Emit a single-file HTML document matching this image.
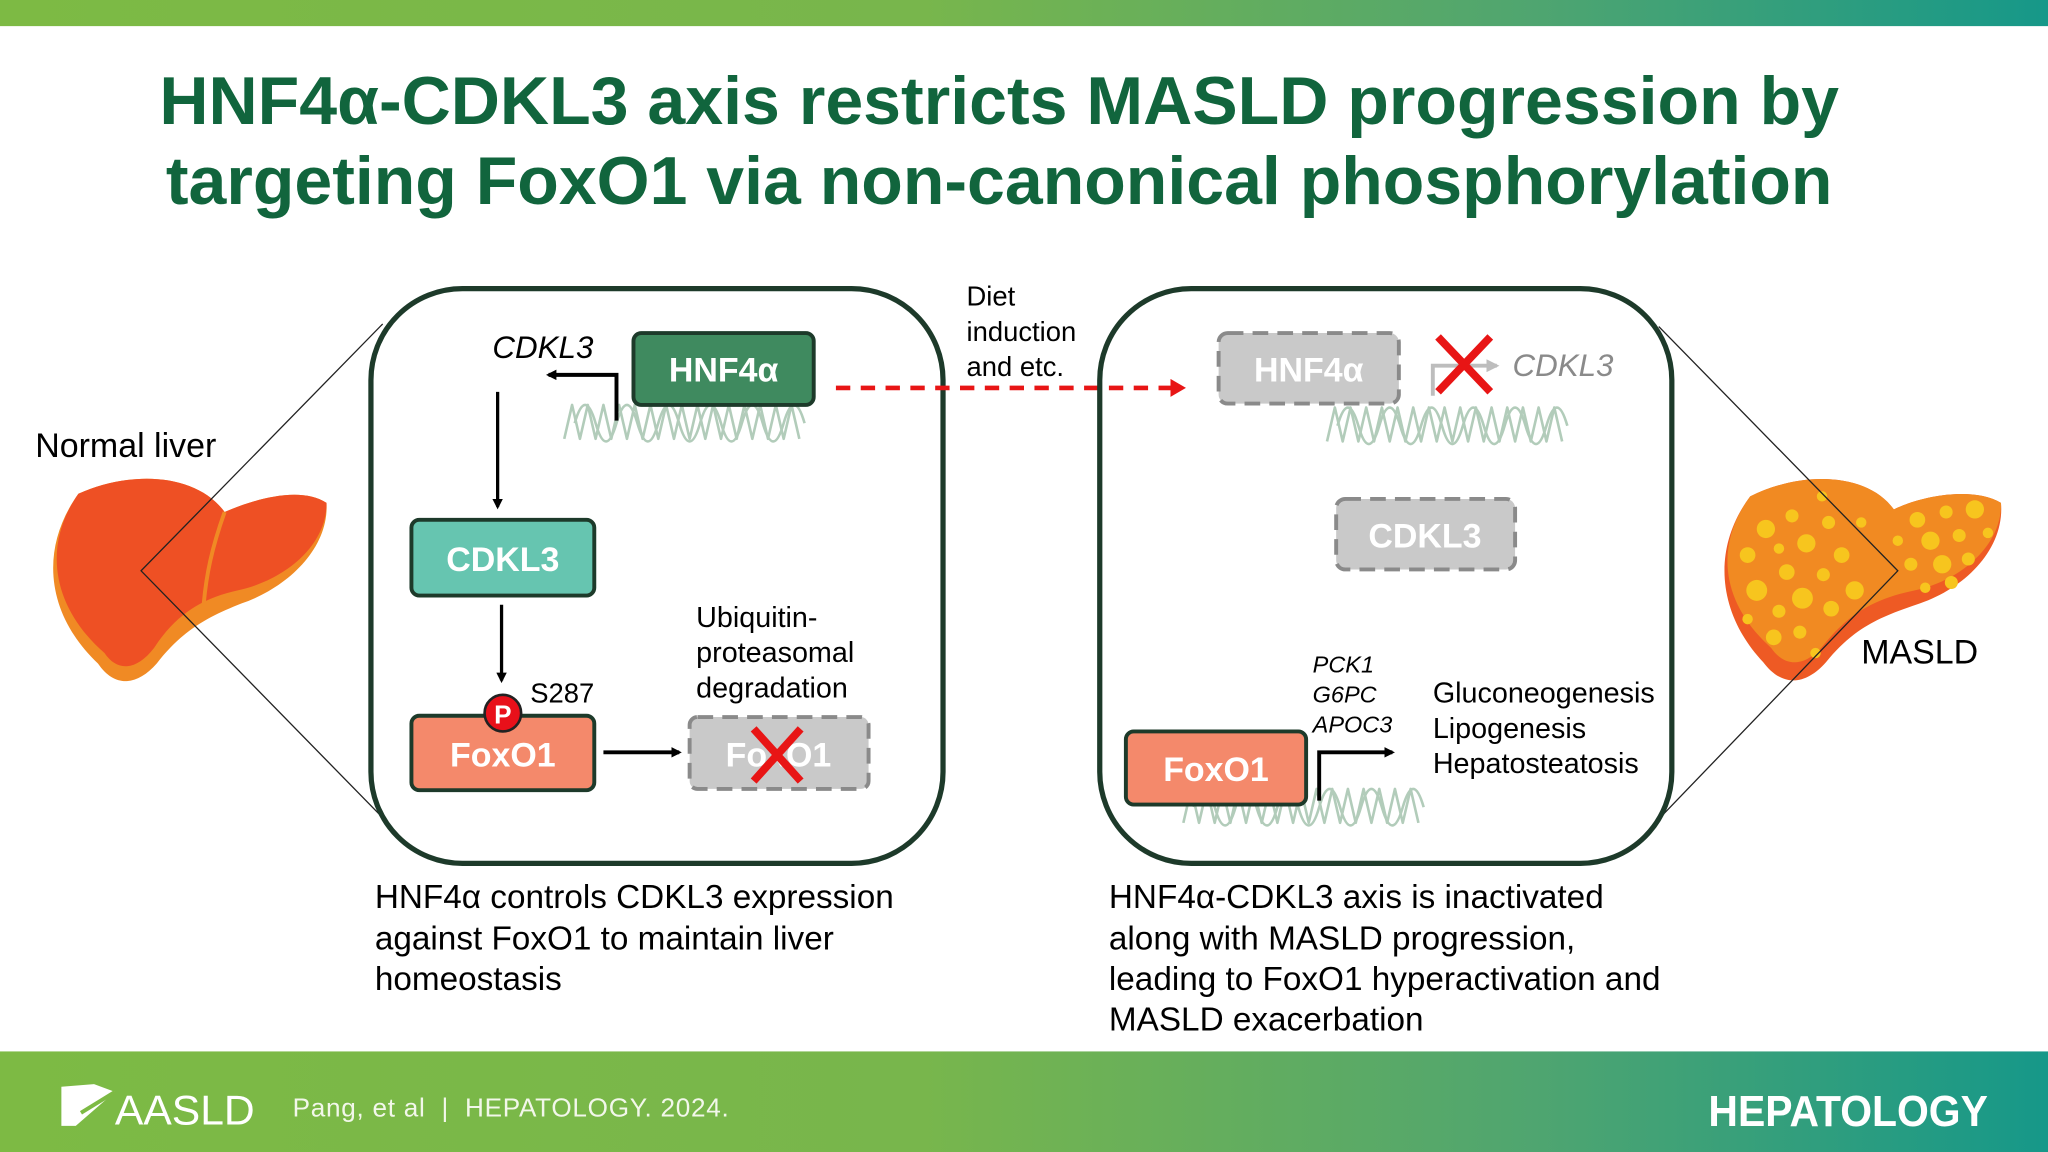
<!DOCTYPE html>
<html><head><meta charset="utf-8"><style>
html,body{margin:0;padding:0;background:#fff}
svg{display:block}
text{font-family:"Liberation Sans",sans-serif}
</style></head><body>
<svg width="2048" height="1152" viewBox="0 0 1568 882" xmlns="http://www.w3.org/2000/svg">
<defs>
<linearGradient id="g" x1="0" x2="1" y1="0" y2="0">
<stop offset="0" stop-color="#7dba44"/><stop offset="0.45" stop-color="#78b64c"/><stop offset="0.75" stop-color="#4fa570"/><stop offset="1" stop-color="#169889"/>
</linearGradient>
<marker id="ah" markerWidth="8" markerHeight="8" refX="6" refY="4" orient="auto" markerUnits="userSpaceOnUse"><path d="M0,0 L8,4 L0,8 z" fill="#000"/></marker>
<marker id="ahr" markerWidth="12" markerHeight="14" refX="10" refY="7" orient="auto" markerUnits="userSpaceOnUse"><path d="M0,0 L12,7 L0,14 z" fill="#e81515"/></marker>
<marker id="ahg" markerWidth="10" markerHeight="10" refX="8" refY="5" orient="auto" markerUnits="userSpaceOnUse"><path d="M0,0 L10,5 L0,10 z" fill="#bdbdbd"/></marker>
<g id="dna" fill="none" stroke="#b2ccba" stroke-width="2">
<path d="M0 30 l6 -26 l6 26 l6 -26 l6 26 l6 -26 l6 26 l6 -26 l6 26 l6 -26 l6 26 l6 -26 l6 26 l6 -26 l6 26 l6 -26 l6 26 l6 -26 l6 26 l6 -26 l6 26 l6 -26 l6 26 l6 -26 l6 26 l6 -26 l6 26 l6 -26 l6 26 l6 -26 l6 26" stroke-linejoin="round"/>
<path d="M8 18 q8 -28 16 0 t16 0 t16 0 t16 0 t16 0 t16 0 t16 0 t16 0 t16 0 t16 0 t16 0"/>
</g>
</defs>
<rect x="0" y="0" width="1568" height="20" fill="url(#g)"/>
<rect x="0" y="805" width="1568" height="77" fill="url(#g)"/>

<text x="122" y="95" font-size="52" font-weight="bold" fill="#11653d" textLength="1286" lengthAdjust="spacingAndGlyphs">HNF4α-CDKL3 axis restricts MASLD progression by</text>
<text x="127" y="156" font-size="52" font-weight="bold" fill="#11653d" textLength="1276" lengthAdjust="spacingAndGlyphs">targeting FoxO1 via non-canonical phosphorylation</text>

<!-- normal liver -->
<text x="27" y="350" font-size="26" fill="#000">Normal liver</text>
<path d="M60 378 C100 360 150 362 172 392 C195 382 230 372 250 385 C252 420 220 450 185 462 C160 472 140 482 120 508 C105 525 88 527 75 508 C35 470 30 420 60 378 Z" fill="#f08a24"/>
<path d="M60 378 C100 360 150 362 172 392 C195 382 230 372 250 385 C250 420 215 445 182 452 C155 458 135 470 118 496 C105 513 90 515 80 500 C40 465 32 418 60 378 Z" fill="#ee5024"/>
<path d="M172 392 C162 420 158 440 156 462" stroke="#f08a24" stroke-width="3" fill="none"/>

<!-- fatty liver -->
<path d="M1340 380 C1380 360 1430 362 1450 390 C1470 380 1510 372 1532 385 C1535 420 1505 450 1470 462 C1440 472 1420 480 1398 507 C1383 524 1365 527 1350 507 C1315 470 1310 420 1340 380 Z" fill="#ee5a24"/>
<path d="M1340 380 C1380 360 1430 362 1450 390 C1470 380 1510 372 1532 385 C1533 418 1500 445 1466 452 C1437 458 1417 468 1396 494 C1383 510 1367 512 1356 496 C1318 462 1312 418 1340 380 Z" fill="#f18a22"/>
<g fill="#f7c51e">
<circle cx="1338" cy="425" r="6"/><circle cx="1352" cy="405" r="7"/><circle cx="1372" cy="395" r="5"/><circle cx="1345" cy="452" r="8"/><circle cx="1368" cy="438" r="6"/><circle cx="1383" cy="416" r="7"/><circle cx="1362" cy="468" r="5"/><circle cx="1380" cy="458" r="8"/><circle cx="1396" cy="440" r="5"/><circle cx="1402" cy="466" r="6"/><circle cx="1358" cy="488" r="6"/><circle cx="1378" cy="484" r="5"/><circle cx="1410" cy="425" r="6"/><circle cx="1400" cy="400" r="5"/><circle cx="1420" cy="452" r="7"/><circle cx="1338" cy="474" r="4"/><circle cx="1390" cy="500" r="4"/><circle cx="1425" cy="400" r="4"/><circle cx="1362" cy="420" r="4"/><circle cx="1395" cy="380" r="4"/>
<circle cx="1468" cy="398" r="6"/><circle cx="1490" cy="392" r="5"/><circle cx="1512" cy="390" r="7"/><circle cx="1478" cy="414" r="7"/><circle cx="1500" cy="410" r="5"/><circle cx="1522" cy="408" r="4"/><circle cx="1463" cy="432" r="5"/><circle cx="1487" cy="432" r="7"/><circle cx="1507" cy="428" r="5"/><circle cx="1474" cy="450" r="4"/><circle cx="1494" cy="446" r="5"/><circle cx="1453" cy="414" r="4"/>
</g>
<text x="1425" y="508" font-size="26" fill="#000">MASLD</text>

<!-- zoom lines -->
<g stroke="#222" stroke-width="1" fill="none">
<path d="M293 248 L108 437 L290 623"/>
<path d="M1270 250 L1453 437 L1272 625"/>
</g>

<!-- left box -->
<rect x="284" y="221" width="438" height="440" rx="70" fill="none" stroke="#1d3a2a" stroke-width="4"/>
<use href="#dna" x="432" y="306"/>
<path d="M472 322 V287 H420" stroke="#000" stroke-width="3" fill="none" marker-end="url(#ah)"/>
<text x="377" y="274" font-size="24" font-style="italic" fill="#000">CDKL3</text>
<rect x="485" y="255" width="138" height="55" rx="6" fill="#3f8a5f" stroke="#1d3a2a" stroke-width="3"/>
<text x="554" y="292" text-anchor="middle" font-size="26" font-weight="bold" fill="#fff">HNF4α</text>
<path d="M381 300 V388" stroke="#000" stroke-width="2.5" marker-end="url(#ah)"/>
<rect x="315" y="398" width="140" height="58" rx="6" fill="#66c5b0" stroke="#1d3a2a" stroke-width="3"/>
<text x="385" y="437" text-anchor="middle" font-size="26" font-weight="bold" fill="#fff">CDKL3</text>
<path d="M384 463 V521" stroke="#000" stroke-width="2.5" marker-end="url(#ah)"/>
<rect x="315" y="548" width="140" height="57" rx="6" fill="#f4896b" stroke="#1d3a2a" stroke-width="3"/>
<text x="385" y="587" text-anchor="middle" font-size="26" font-weight="bold" fill="#fff">FoxO1</text>
<circle cx="385" cy="546" r="14" fill="#e8101a" stroke="#222" stroke-width="2"/>
<text x="385" y="554" text-anchor="middle" font-size="20" font-weight="bold" fill="#fff">P</text>
<text x="406" y="538" font-size="21" fill="#000">S287</text>
<path d="M462 576 H520" stroke="#000" stroke-width="3" marker-end="url(#ah)"/>
<rect x="528" y="549" width="137" height="55" rx="6" fill="#c9c9c9" stroke="#8a8a8a" stroke-width="3" stroke-dasharray="12 7"/>
<text x="596" y="587" text-anchor="middle" font-size="26" font-weight="bold" fill="#fff">FoxO1</text>
<path d="M577 558 L613 598 M613 558 L577 598" stroke="#e81515" stroke-width="6"/>
<text font-size="22" fill="#000"><tspan x="533" y="480">Ubiquitin-</tspan><tspan x="533" y="507">proteasomal</tspan><tspan x="533" y="534">degradation</tspan></text>

<!-- middle -->
<path d="M640 297 H906" stroke="#e81515" stroke-width="3.5" stroke-dasharray="11 8" fill="none" marker-end="url(#ahr)"/>
<text font-size="21" fill="#000"><tspan x="740" y="234">Diet</tspan><tspan x="740" y="261">induction</tspan><tspan x="740" y="288">and etc.</tspan></text>

<!-- right box -->
<rect x="842" y="221" width="438" height="440" rx="70" fill="none" stroke="#1d3a2a" stroke-width="4"/>
<use href="#dna" x="1016" y="308"/>
<path d="M1097 303 V280 H1146" stroke="#bdbdbd" stroke-width="3" fill="none" marker-end="url(#ahg)"/>
<rect x="933" y="255" width="138" height="54" rx="7" fill="#c9c9c9" stroke="#8a8a8a" stroke-width="3" stroke-dasharray="12 7"/>
<text x="1002" y="292" text-anchor="middle" font-size="26" font-weight="bold" fill="#fff">HNF4α</text>
<path d="M1101 258 L1141 300 M1141 258 L1101 300" stroke="#e81515" stroke-width="6"/>
<text x="1158" y="288" font-size="24" font-style="italic" fill="#8a8a8a">CDKL3</text>
<rect x="1023" y="382" width="137" height="54" rx="7" fill="#c9c9c9" stroke="#8a8a8a" stroke-width="3" stroke-dasharray="12 7"/>
<text x="1091" y="419" text-anchor="middle" font-size="26" font-weight="bold" fill="#fff">CDKL3</text>
<use href="#dna" x="906" y="600"/>
<rect x="862" y="560" width="138" height="56" rx="6" fill="#f4896b" stroke="#1d3a2a" stroke-width="3"/>
<text x="931" y="598" text-anchor="middle" font-size="26" font-weight="bold" fill="#fff">FoxO1</text>
<path d="M1010 613 V576 H1066" stroke="#000" stroke-width="3" fill="none" marker-end="url(#ah)"/>
<text font-size="18" font-style="italic" fill="#000"><tspan x="1005" y="515">PCK1</tspan><tspan x="1005" y="538">G6PC</tspan><tspan x="1005" y="561">APOC3</tspan></text>
<text font-size="22" fill="#000"><tspan x="1097" y="538">Gluconeogenesis</tspan><tspan x="1097" y="565">Lipogenesis</tspan><tspan x="1097" y="592">Hepatosteatosis</tspan></text>

<!-- captions -->
<text font-size="25.5" fill="#000"><tspan x="287" y="695">HNF4α controls CDKL3 expression</tspan><tspan x="287" y="727">against FoxO1 to maintain liver</tspan><tspan x="287" y="758">homeostasis</tspan></text>
<text font-size="25.5" fill="#000"><tspan x="849" y="695">HNF4α-CDKL3 axis is inactivated</tspan><tspan x="849" y="727">along with MASLD progression,</tspan><tspan x="849" y="758">leading to FoxO1 hyperactivation and</tspan><tspan x="849" y="789">MASLD exacerbation</tspan></text>

<!-- footer -->
<path d="M47 832 L72 830 L88 836 L58 862 L47 862 Z" fill="#fff"/>
<path d="M62 852 L88 836" stroke="#7dba44" stroke-width="3"/>
<text x="88" y="861" font-size="32" fill="#fff" textLength="107" lengthAdjust="spacingAndGlyphs">AASLD</text>
<text x="224" y="855" font-size="20" fill="#f2f7ea" textLength="334" lengthAdjust="spacing" xml:space="preserve">Pang, et al  |  HEPATOLOGY. 2024.</text>
<text x="1522" y="862" text-anchor="end" font-size="33" font-weight="bold" fill="#fff" textLength="214" lengthAdjust="spacingAndGlyphs">HEPATOLOGY</text>
</svg>
</body></html>
